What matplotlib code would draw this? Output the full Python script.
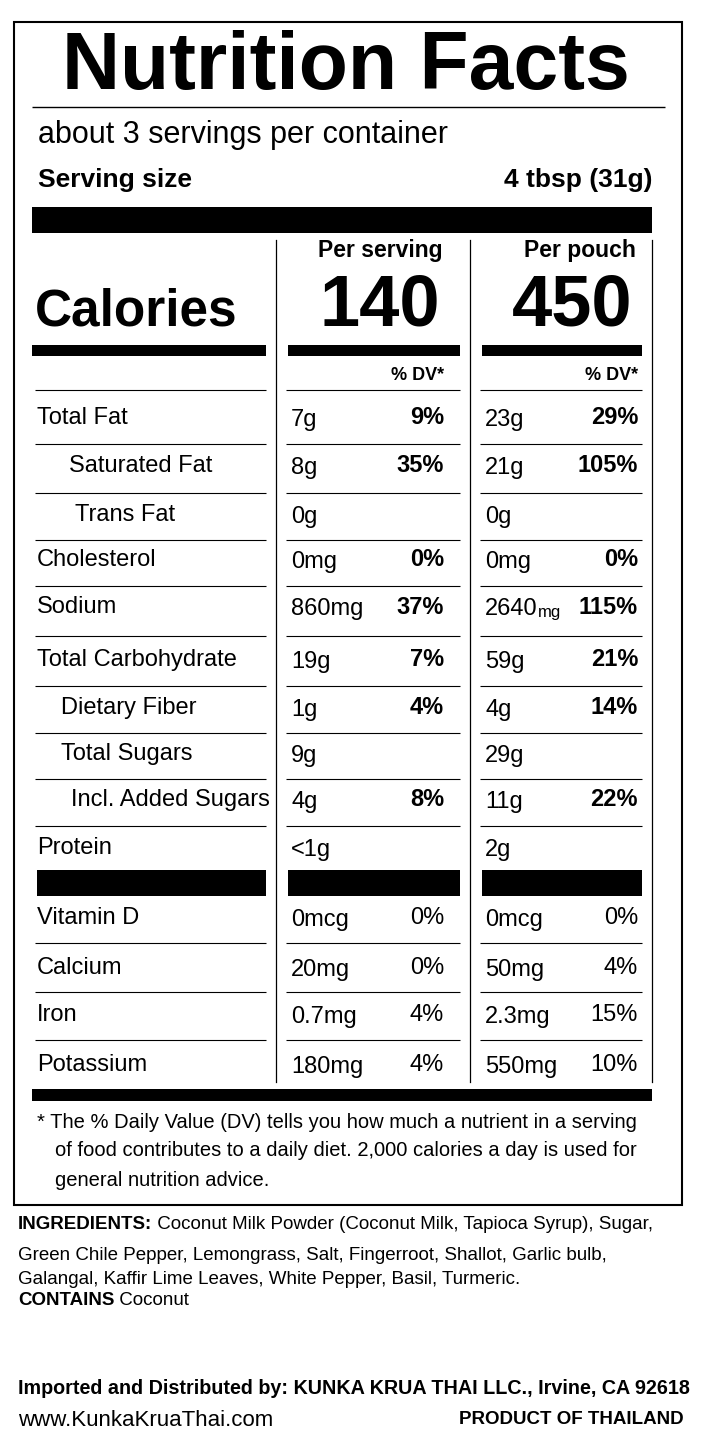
import matplotlib
matplotlib.use("Agg")
import matplotlib.pyplot as plt
from matplotlib.patches import Rectangle

FONT = ["Liberation Sans Narrow", "Liberation Sans", "DejaVu Sans"]

nutrients = ["Total Fat", "Saturated Fat", "Trans Fat", "Cholesterol", "Sodium",
             "Total Carbohydrate", "Dietary Fiber", "Total Sugars", "Incl. Added Sugars", "Protein"]
indent = [0, 32, 38, 0, 0, 0, 24, 24, 34, 0]
serv_amt = ["7g", "8g", "0g", "0mg", "860mg", "19g", "1g", "9g", "4g", "<1g"]
serv_dv = ["9%", "35%", "", "0%", "37%", "7%", "4%", "", "8%", ""]
pouch_amt = ["23g", "21g", "0g", "0mg", "2640mg", "59g", "4g", "29g", "11g", "2g"]
pouch_dv = ["29%", "105%", "", "0%", "115%", "21%", "14%", "", "22%", ""]
row_y = [418, 466, 515, 560, 607, 660, 708, 754, 800, 848]

vitamins = ["Vitamin D", "Calcium", "Iron", "Potassium"]
vit_serv_amt = ["0mcg", "20mg", "0.7mg", "180mg"]
vit_serv_dv = ["0%", "0%", "4%", "4%"]
vit_pouch_amt = ["0mcg", "50mg", "2.3mg", "550mg"]
vit_pouch_dv = ["0%", "4%", "15%", "10%"]
vit_y = [918, 968, 1015, 1065]

W, H = 702, 1449
fig = plt.figure(figsize=(W/100, H/100), dpi=100)
ax = fig.add_axes([0, 0, 1, 1])
ax.set_xlim(0, W); ax.set_ylim(H, 0); ax.axis("off")

def t(x, y, s, size, bold=False, ha="left", va="center", **kw):
    return ax.text(x, y, s, fontsize=size, fontweight="bold" if bold else "normal",
                   ha=ha, va=va, family=FONT, **kw)

def after(prev, s, size, bold=False):
    return ax.annotate(s, xy=(1, 0), xycoords=prev, va="bottom", ha="left",
                       fontsize=size, fontweight="bold" if bold else "normal", family=FONT)

def rect(x0, y0, x1, y1):
    ax.add_patch(Rectangle((x0, y0), x1-x0, y1-y0, color="black", lw=0))

def hline(y, x0, x1, lw=1):
    ax.plot([x0, x1], [y, y], color="black", lw=lw, solid_capstyle="butt")

ax.add_patch(Rectangle((14, 22), 668, 1183, fill=False, ec="black", lw=1.5))
t(346, 68, "Nutrition Facts", 58, bold=True, ha="center")
hline(107, 32, 665, 1)
t(38, 135, "about 3 servings per container", 22)
t(38, 180, "Serving size", 19, bold=True)
t(652, 180, "4 tbsp (31g)", 19, bold=True, ha="right")
rect(32, 207, 652, 233)

for x in (276, 470, 652):
    ax.plot([x, x], [240, 1082], color="black", lw=0.9)

t(380, 251, "Per serving", 16.5, bold=True, ha="center")
t(580, 251, "Per pouch", 16.5, bold=True, ha="center")
t(35, 312, "Calories", 37, bold=True)
t(380, 307, "140", 52, bold=True, ha="center")
t(572, 307, "450", 52, bold=True, ha="center")
for x0, x1 in ((32, 266), (288, 460), (482, 642)):
    rect(x0, 345, x1, 356)
t(444, 375, "% DV*", 13, bold=True, ha="right")
t(638, 375, "% DV*", 13, bold=True, ha="right")

segs = ((35, 266), (286, 460), (480, 642))

def seps(ys):
    for y in ys:
        for x0, x1 in segs:
            hline(y, x0, x1, 0.8)

seps([390] + [(row_y[i] + row_y[i+1]) / 2 + 2 for i in range(len(row_y)-1)])
FS = 17
for i, n in enumerate(nutrients):
    y = row_y[i]
    t(37 + indent[i], y, n, FS)
    t(291, y + 2, serv_amt[i], FS)
    t(444, y, serv_dv[i], FS, bold=True, ha="right")
    amt = pouch_amt[i]
    if len(amt) > 5 and amt.endswith("mg"):
        p = t(485, y + 2, amt[:-2], FS)
        after(p, "mg", 12)
    else:
        t(485, y + 2, amt, FS)
    t(638, y, pouch_dv[i], FS, bold=True, ha="right")

for x0, x1 in ((37, 266), (288, 460), (482, 642)):
    rect(x0, 870, x1, 896)

seps([(vit_y[i] + vit_y[i+1]) / 2 for i in range(len(vit_y)-1)])
for i, n in enumerate(vitamins):
    y = vit_y[i]
    t(37, y, n, FS)
    t(291, y + 2, vit_serv_amt[i], FS)
    t(444, y, vit_serv_dv[i], FS, ha="right")
    t(485, y + 2, vit_pouch_amt[i], FS)
    t(638, y, vit_pouch_dv[i], FS, ha="right")

rect(32, 1089, 652, 1101)
t(37, 1122, "* The % Daily Value (DV) tells you how much a nutrient in a serving", 14.5)
t(55, 1151, "of food contributes to a daily diet. 2,000 calories a day is used for", 14.5)
t(55, 1180, "general nutrition advice.", 14.5)

a = t(18, 1229, "INGREDIENTS:", 13.5, bold=True, va="baseline")
after(a, " Coconut Milk Powder (Coconut Milk, Tapioca Syrup), Sugar,", 13.5)
t(18, 1256, "Green Chile Pepper, Lemongrass, Salt, Fingerroot, Shallot, Garlic bulb,", 13.5)
t(18, 1280, "Galangal, Kaffir Lime Leaves, White Pepper, Basil, Turmeric.", 13.5)
c = t(18, 1305, "CONTAINS", 13.5, bold=True, va="baseline")
after(c, " Coconut", 13.5)
t(18, 1388, "Imported and Distributed by: KUNKA KRUA THAI LLC., Irvine, CA 92618", 14.2, bold=True)
t(18, 1420, "www.KunkaKruaThai.com", 16)
t(684, 1420, "PRODUCT OF THAILAND", 13.5, bold=True, ha="right")

fig.savefig("out.png", dpi=100)
